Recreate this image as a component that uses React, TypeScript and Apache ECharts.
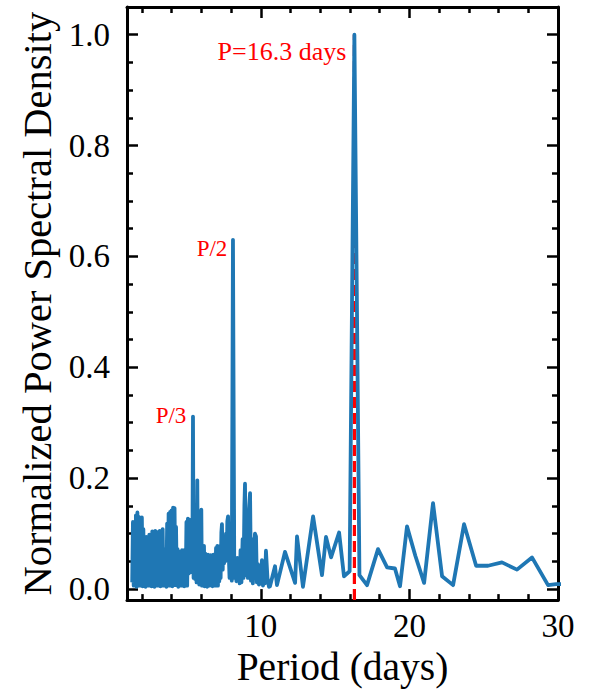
import React, { useEffect, useRef } from "react";
import * as echarts from "echarts";

// Periodogram values: [period (days), normalized power]
const PSD_SHORT: [number, number][] = [
  [1.35, 0.012], [1.40, 0.121], [1.45, 0.006], [1.50, 0.117], [1.55, 0.010],
  [1.60, 0.133], [1.65, 0.004], [1.70, 0.138], [1.75, 0.014], [1.80, 0.130],
  [1.85, 0.006], [1.90, 0.124], [1.95, 0.009], [2.00, 0.129], [2.05, 0.005],
  [2.10, 0.108], [2.15, 0.016], [2.20, 0.092], [2.25, 0.004], [2.30, 0.094],
  [2.35, 0.011], [2.40, 0.093], [2.45, 0.006], [2.50, 0.098], [2.55, 0.013],
  [2.60, 0.096], [2.65, 0.005], [2.70, 0.104], [2.75, 0.010], [2.80, 0.102],
  [2.85, 0.004], [2.90, 0.105], [2.95, 0.012], [3.00, 0.088], [3.05, 0.006],
  [3.10, 0.103], [3.15, 0.009], [3.20, 0.105], [3.25, 0.005], [3.30, 0.097],
  [3.35, 0.014], [3.40, 0.108], [3.45, 0.006], [3.50, 0.072], [3.55, 0.010],
  [3.60, 0.052], [3.65, 0.004], [3.70, 0.118], [3.75, 0.011], [3.80, 0.136],
  [3.85, 0.006], [3.90, 0.139], [3.95, 0.012], [4.00, 0.142], [4.05, 0.005],
  [4.10, 0.147], [4.15, 0.010], [4.20, 0.146], [4.25, 0.007], [4.30, 0.112],
  [4.35, 0.013], [4.40, 0.072], [4.45, 0.004], [4.50, 0.068], [4.55, 0.011],
  [4.60, 0.066], [4.65, 0.006], [4.70, 0.070], [4.75, 0.012], [4.80, 0.068],
  [4.85, 0.005], [4.90, 0.071], [4.95, 0.010], [5.00, 0.121], [5.05, 0.006],
  [5.10, 0.127], [5.15, 0.028], [5.20, 0.125], [5.25, 0.030], [5.30, 0.120],
  [5.35, 0.032], [5.40, 0.060],
];

const PSD_P3: [number, number][] = [
  [5.44, 0.311], [5.48, 0.020], [5.53, 0.045], [5.58, 0.018], [5.63, 0.092],
  [5.68, 0.012], [5.73, 0.196], [5.77, 0.015], [5.82, 0.118], [5.86, 0.008],
  [5.91, 0.139], [5.95, 0.010], [6.00, 0.143], [6.04, 0.006], [6.09, 0.070],
  [6.13, 0.012], [6.18, 0.078], [6.22, 0.005], [6.27, 0.064], [6.31, 0.010],
  [6.36, 0.060], [6.40, 0.004], [6.45, 0.062], [6.49, 0.011], [6.54, 0.058],
  [6.58, 0.006], [6.63, 0.061], [6.67, 0.012], [6.72, 0.059], [6.76, 0.005],
  [6.81, 0.062], [6.85, 0.010], [6.90, 0.050], [6.94, 0.006], [6.99, 0.074],
  [7.03, 0.012], [7.08, 0.078], [7.12, 0.006], [7.17, 0.070], [7.21, 0.014],
  [7.26, 0.078], [7.30, 0.020], [7.35, 0.102], [7.39, 0.117], [7.44, 0.035],
  [7.48, 0.087], [7.53, 0.046], [7.57, 0.082], [7.62, 0.050], [7.66, 0.100],
  [7.71, 0.052], [7.75, 0.122], [7.80, 0.131], [7.85, 0.060], [7.90, 0.020],
  [7.95, 0.045], [8.00, 0.060], [8.05, 0.015],
];

const PSD_P2: [number, number][] = [
  [8.13, 0.630], [8.22, 0.020], [8.30, 0.055], [8.36, 0.014], [8.42, 0.056],
  [8.47, 0.018], [8.53, 0.050], [8.58, 0.010], [8.64, 0.070], [8.70, 0.012],
  [8.78, 0.090], [8.84, 0.020], [8.90, 0.150], [8.94, 0.190], [9.00, 0.025],
  [9.07, 0.090], [9.13, 0.020], [9.20, 0.140], [9.28, 0.173], [9.34, 0.015],
  [9.41, 0.090], [9.47, 0.010], [9.54, 0.060], [9.61, 0.100], [9.68, 0.095],
  [9.74, 0.012], [9.81, 0.045], [9.88, 0.008], [9.95, 0.030], [10.02, 0.010],
  [10.08, 0.052], [10.15, 0.006], [10.22, 0.035], [10.28, 0.010], [10.35, 0.069],
  [10.45, 0.020], [10.55, 0.004],
];

const PSD_LONG: [number, number][] = [
  [10.62, 0.005], [10.96, 0.041], [11.09, 0.007], [11.63, 0.067], [12.31, 0.011],
  [12.44, 0.095], [12.84, 0.004], [13.52, 0.131], [14.12, 0.025], [14.39, 0.094],
  [14.73, 0.057], [15.27, 0.102], [15.60, 0.023], [15.98, 0.032], [16.30, 1.000],
  [16.64, 0.025], [17.15, 0.007], [17.89, 0.072], [18.50, 0.039], [19.03, 0.037],
  [19.37, 0.005], [19.84, 0.113], [20.40, 0.060], [20.99, 0.011], [21.59, 0.155],
  [22.20, 0.023], [22.94, 0.007], [23.68, 0.117], [24.49, 0.042], [25.29, 0.042],
  [26.23, 0.048], [27.24, 0.035], [28.25, 0.057], [29.33, 0.007], [29.87, 0.009],
  [30.40, 0.009],
];

const BEST_PERIOD = 16.3;

const ANNOTATIONS = [
  { text: "P=16.3 days", x: 11.43, y: 0.97, size: 26 },
  { text: "P/2", x: 6.72, y: 0.614, size: 23 },
  { text: "P/3", x: 3.96, y: 0.313, size: 23 },
];

const X_MIN = 1;
const X_MAX = 30;
const Y_MIN = -0.02;
const Y_MAX = 1.05;
const X_MAJOR = [10, 20, 30];
const X_MINOR = [2, 4, 6, 8, 12, 14, 16, 18, 22, 24, 26, 28];
const Y_MAJOR = [0, 0.2, 0.4, 0.6, 0.8, 1.0];
const Y_MINOR = [0.05, 0.1, 0.15, 0.25, 0.3, 0.35, 0.45, 0.5, 0.55, 0.65, 0.7, 0.75, 0.85, 0.9, 0.95];

const FONT = "'Liberation Serif', 'Times New Roman', Times, serif";
const BLUE = "#1f77b4";
const RED = "#ff0000";

function makeAxis(
  kind: "x" | "y",
  position: string,
  ticks: number[],
  len: number,
  showLine: boolean,
  label: any
) {
  return {
    type: "value",
    position,
    min: kind === "x" ? X_MIN : Y_MIN,
    max: kind === "x" ? X_MAX : Y_MAX,
    axisLine: { show: showLine, onZero: false, lineStyle: { color: "#000", width: 3 } },
    axisTick: {
      show: true,
      inside: true,
      length: len,
      customValues: ticks,
      lineStyle: { color: "#000", width: 2.5 },
    },
    axisLabel: label,
    splitLine: { show: false },
  };
}

export default function App() {
  const ref = useRef<HTMLDivElement>(null);

  useEffect(() => {
    const chart = echarts.init(ref.current!, undefined, { renderer: "svg" });
    const psd = [...PSD_SHORT, ...PSD_P3, ...PSD_P2, ...PSD_LONG];
    const xLabel = {
      show: true,
      customValues: X_MAJOR,
      fontSize: 33,
      fontFamily: FONT,
      color: "#000",
      margin: 9,
    };
    const yLabel = {
      show: true,
      customValues: Y_MAJOR,
      fontSize: 33,
      fontFamily: FONT,
      color: "#000",
      margin: 17,
      formatter: (v: number) => v.toFixed(1),
    };
    const xMain: any = makeAxis("x", "bottom", X_MAJOR, 11, true, xLabel);
    xMain.name = "Period (days)";
    xMain.nameLocation = "middle";
    xMain.nameGap = 36;
    xMain.nameTextStyle = { fontSize: 39.5, fontFamily: FONT, color: "#000" };
    const yMain: any = makeAxis("y", "left", Y_MAJOR, 11, true, yLabel);
    yMain.name = "Normalized Power Spectral Density";
    yMain.nameLocation = "middle";
    yMain.nameRotate = 90;
    yMain.nameGap = 54;
    yMain.nameTextStyle = { fontSize: 40.5, fontFamily: FONT, color: "#000" };

    const option: any = {
      animation: false,
      backgroundColor: "#fff",
      textStyle: { fontFamily: FONT },
      grid: { left: 127, right: 36, top: 7, bottom: 79, containLabel: false },
      xAxis: [
        xMain,
        makeAxis("x", "bottom", X_MINOR, 6, false, { show: false }),
        makeAxis("x", "top", X_MAJOR, 11, true, { show: false }),
        makeAxis("x", "top", X_MINOR, 6, false, { show: false }),
      ],
      yAxis: [
        yMain,
        makeAxis("y", "left", Y_MINOR, 6, false, { show: false }),
        makeAxis("y", "right", Y_MAJOR, 11, true, { show: false }),
        makeAxis("y", "right", Y_MINOR, 6, false, { show: false }),
      ],
      series: [
        {
          type: "line",
          xAxisIndex: 0,
          yAxisIndex: 0,
          data: [
            [BEST_PERIOD, Y_MIN],
            [BEST_PERIOD, 1.0],
          ],
          showSymbol: false,
          symbol: "none",
          lineStyle: { color: RED, width: 3.2, type: [11, 5] },
          z: 2,
          silent: true,
        },
        {
          type: "line",
          xAxisIndex: 0,
          yAxisIndex: 0,
          data: psd,
          showSymbol: false,
          symbol: "none",
          clip: true,
          lineStyle: { color: BLUE, width: 3.8, join: "round" },
          z: 3,
          silent: true,
        },
        {
          type: "scatter",
          xAxisIndex: 0,
          yAxisIndex: 0,
          symbolSize: 0,
          itemStyle: { color: "rgba(0,0,0,0)" },
          silent: true,
          z: 4,
          data: ANNOTATIONS.map((a) => ({
            value: [a.x, a.y],
            name: a.text,
            label: {
              show: true,
              position: "inside",
              formatter: a.text,
              fontSize: a.size,
              fontFamily: FONT,
              color: RED,
              opacity: 1,
            },
          })),
        },
      ],
    };
    chart.setOption(option);
    return () => chart.dispose();
  }, []);

  return (
    <div
      ref={ref}
      style={{ position: "fixed", left: 0, top: 0, width: 594, height: 692, background: "#fff" }}
    />
  );
}
